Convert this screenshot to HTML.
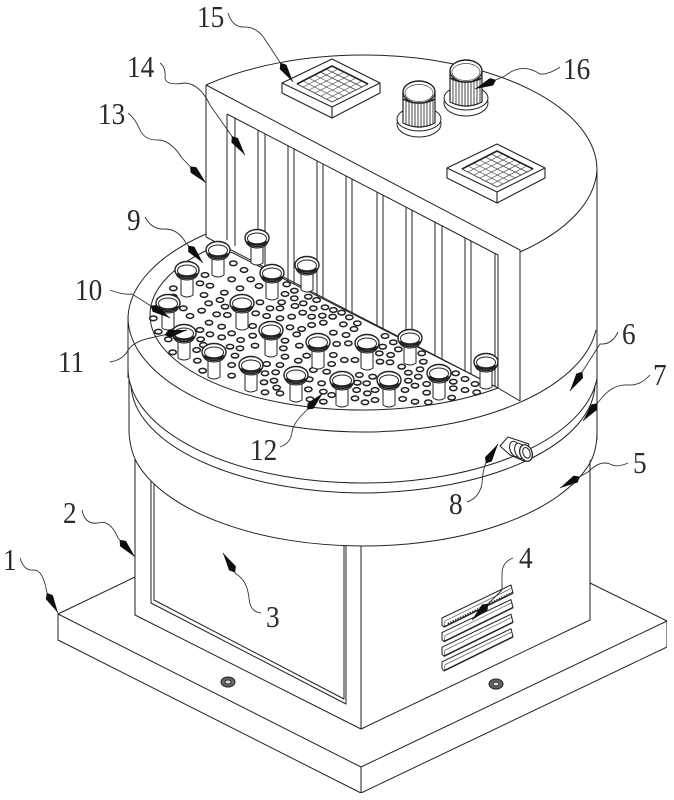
<!DOCTYPE html>
<html><head><meta charset="utf-8"><style>
html,body{margin:0;padding:0;background:#fff;width:674px;height:800px;overflow:hidden}
svg{display:block}
text{font-family:"Liberation Serif",serif;font-size:31px;fill:#2a2a2a}
</style></head><body>
<svg width="674" height="800" viewBox="0 0 674 800" xmlns="http://www.w3.org/2000/svg">
<defs>
<filter id="b" x="0" y="0" width="100%" height="100%"><feGaussianBlur stdDeviation="0.3"/></filter>
<marker id="a" markerUnits="userSpaceOnUse" markerWidth="26" markerHeight="12" refX="23" refY="5" orient="auto"><path d="M0,5 L5,1 L23,5 L5,9 Z" fill="#111"/></marker>
<ellipse id="h" rx="11" ry="7" fill="#fff" stroke="#222" stroke-width="4.500"/>
<g id="t" fill="#fff" stroke="#222" stroke-width="1">
<path d="M-6,7 L-6,25 Q0,29 6,25 L6,7 Z"/>
<path d="M-12,0 Q-11,7 -6,9 Q0,11 6,9 Q11,7 12,0 Z"/>
<ellipse cx="0" cy="0" rx="12" ry="8.500" stroke-width="1.400"/>
<ellipse cx="0" cy="0.500" rx="9.500" ry="5.500"/>
<path d="M-10,4 Q0,9 10,4" fill="none" stroke-width="2.400"/>
</g>
<g id="v">
<path d="M332,59 L380,83 L380,93 L332,118 L282,93 L282,83 Z" fill="#fff" stroke="#222" stroke-width="1.100"/>
<path d="M282,83 L332,107 L380,83 M332,107 V118" fill="none" stroke="#222" stroke-width="1.100"/>
<path d="M332,66 L368,84 L332,102 L297,84 Z" fill="#fff" stroke="#333" stroke-width="0.800"/>
<path d="M297,84 L332,66 L368,84" fill="none" stroke="#222" stroke-width="1.600"/>
<path d="M326,69 L362,87 M320.300,72 L356,90 M314.500,75 L350,93 M308.700,78 L344,96 M303,81 L338,99 M338,69 L303,87 M344,72 L309,90 M350,75 L315,93 M356,78 L321,96 M362,81 L327,99" fill="none" stroke="#444" stroke-width="0.700"/>
</g>
<g id="k">
<ellipse cx="466" cy="103" rx="22" ry="13" fill="#fff" stroke="#222"/>
<ellipse cx="466" cy="98" rx="22" ry="12" fill="#fff" stroke="#222"/>
<path d="M450,72 V102 Q466,110 482,102 V72 Z" fill="#fff" stroke="#222" stroke-width="1.200"/>
<path d="M453,78 V104 M456,79 V105 M459,80 V106 M462,80 V106 M465,80 V107 M468,80 V107 M471,80 V106 M474,80 V106 M477,79 V105 M480,78 V103" stroke="#333" stroke-width="0.900" fill="none"/>
<path d="M450,78 Q466,86 482,78" fill="none" stroke="#222" stroke-width="1.600"/>
<ellipse cx="466" cy="71" rx="16" ry="11" fill="#fff" stroke="#222" stroke-width="1.400"/>
<ellipse cx="466" cy="72" rx="14" ry="8.500" fill="#fff" stroke="#444" stroke-width="0.700"/>
</g>
<g id="s">
<path d="M442,618 L511,585 L513,593 L444,627 L442,625 Z" fill="#fff" stroke="#222"/>
<path d="M444,627 L445,621 L512,588" fill="none" stroke="#444" stroke-width="0.600"/>
<path d="M444,627 L513,593" fill="none" stroke="#222" stroke-width="1.500"/>
</g>
</defs>
<rect width="674" height="800" fill="#fff"/>
<g filter="url(#b)" stroke="#222" stroke-width="1" fill="none" stroke-linejoin="round">

<!-- base -->
<path d="M58,614 L135,577 L590,583 L667,621 L667,647 L361,793 L58,640 Z" fill="#fff"/>
<path d="M58,614 L361,767 L667,621 M361,767 V793"/>

<!-- body -->
<path d="M135,440 V615 L361,729 L590,620 V440 Z" fill="#fff"/>
<path d="M361,520 V729"/>
<path d="M151,470 V603 L346,704 V520 M154,470 V600 L344,699 V520"/>

<!-- vent slats -->
<use href="#s"/>
<use href="#s" y="14.600"/>
<use href="#s" y="29.200"/>
<use href="#s" y="43.800"/>
<path d="M448,624 L512,593" stroke-width="2.400" stroke-dasharray="1.500 1.200" stroke="#333"/>

<!-- bolts -->
<ellipse cx="228" cy="682" rx="7" ry="5" fill="#666" stroke="#222"/><ellipse cx="228" cy="682" rx="3" ry="2" fill="#ddd" stroke="#333"/>
<ellipse cx="496" cy="684" rx="7" ry="5" fill="#666" stroke="#222"/><ellipse cx="496" cy="684" rx="3" ry="2" fill="#ddd" stroke="#333"/>

<!-- lower drum -->
<path d="M128,317 V432 A235,115 0 0 0 362,546 A235,115 0 0 0 597,440 V317 Z" fill="#fff" stroke="none"/>
<path d="M129,378 V432 Q130,450 137,463 A235,115 0 0 0 362,546 A235,115 0 0 0 590,463 Q597,450 597,432"/>
<path d="M128,368 A235,115 0 0 0 362,483 A235,115 0 0 0 597,378"/>
<path d="M131,385 A235,110 0 0 0 362,493 A235,110 0 0 0 595,385"/>

<!-- tower -->
<path d="M206,85 A234,115 0 0 1 363,55 A234,115 0 0 1 597,170 V340 L520,402 L206,237 Z" fill="#fff" stroke="none"/>
<path d="M206,85 A234,115 0 0 1 363,55 A234,115 0 0 1 597,170 A234,115 0 0 1 520,252"/>
<path d="M597,170 V440"/>
<path d="M206,85 L520,250 V401"/>
<path d="M206,85 V237"/>
<path d="M227,114 V240 M235,118 V246"/>
<path d="M227,114 L498,255 V388 M495,253 V387"/>
<path d="M258,130 V270 M265,134 V275 M288,146 V285 M294,149 V290 M317,161 V300 M323,164 V305 M346,176 V315 M352,179 V320 M377,192 V330 M383,195 V335 M406,207 V345 M412,210 V350 M435,222 V360 M442,225 V365 M465,238 V375 M471,241 V380"/>

<!-- rim -->
<path d="M206,234 A235,115 0 0 0 128,317 A235,115 0 0 0 363,432 A235,115 0 0 0 596,330 M128,317 V378" fill="none"/>
<path d="M206,237 L498,388 L520,401"/>

<!-- plate -->
<path d="M214,247 A213,95 0 0 0 150,315 A213,95 0 0 0 363,410 A213,95 0 0 0 498,388 L233,253 Z" fill="#fff"/>

<!-- holes -->
<g transform="translate(110,220) scale(.33333)">
<use href="#h" x="370" y="130"/><use href="#h" x="402" y="150"/><use href="#h" x="285" y="165"/><use href="#h" x="365" y="178"/><use href="#h" x="422" y="178"/><use href="#h" x="270" y="190"/><use href="#h" x="300" y="197"/><use href="#h" x="447" y="198"/><use href="#h" x="390" y="205"/><use href="#h" x="530" y="193"/><use href="#h" x="553" y="212"/><use href="#h" x="343" y="218"/><use href="#h" x="282" y="225"/><use href="#h" x="525" y="222"/><use href="#h" x="553" y="235"/><use href="#h" x="330" y="240"/><use href="#h" x="296" y="250"/><use href="#h" x="450" y="247"/><use href="#h" x="515" y="247"/><use href="#h" x="580" y="250"/><use href="#h" x="620" y="240"/><use href="#h" x="595" y="230"/><use href="#h" x="345" y="260"/><use href="#h" x="220" y="265"/><use href="#h" x="275" y="272"/><use href="#h" x="480" y="265"/><use href="#h" x="510" y="265"/><use href="#h" x="555" y="258"/><use href="#h" x="610" y="265"/><use href="#h" x="645" y="262"/><use href="#h" x="670" y="270"/><use href="#h" x="695" y="278"/><use href="#h" x="240" y="288"/><use href="#h" x="320" y="283"/><use href="#h" x="352" y="285"/><use href="#h" x="437" y="280"/><use href="#h" x="470" y="288"/><use href="#h" x="510" y="295"/><use href="#h" x="545" y="290"/><use href="#h" x="578" y="278"/><use href="#h" x="605" y="290"/><use href="#h" x="637" y="287"/><use href="#h" x="668" y="290"/><use href="#h" x="718" y="292"/><use href="#h" x="297" y="308"/><use href="#h" x="335" y="320"/><use href="#h" x="428" y="318"/><use href="#h" x="540" y="322"/><use href="#h" x="575" y="327"/><use href="#h" x="605" y="315"/><use href="#h" x="640" y="308"/><use href="#h" x="700" y="313"/><use href="#h" x="742" y="310"/><use href="#h" x="732" y="327"/><use href="#h" x="270" y="330"/><use href="#h" x="300" y="343"/><use href="#h" x="365" y="340"/><use href="#h" x="335" y="352"/><use href="#h" x="428" y="347"/><use href="#h" x="560" y="343"/><use href="#h" x="670" y="338"/><use href="#h" x="708" y="345"/><use href="#h" x="825" y="348"/><use href="#h" x="272" y="358"/><use href="#h" x="392" y="360"/><use href="#h" x="280" y="375"/><use href="#h" x="360" y="380"/><use href="#h" x="390" y="385"/><use href="#h" x="435" y="377"/><use href="#h" x="525" y="362"/><use href="#h" x="568" y="377"/><use href="#h" x="520" y="385"/><use href="#h" x="680" y="372"/><use href="#h" x="715" y="370"/><use href="#h" x="850" y="367"/><use href="#h" x="818" y="380"/><use href="#h" x="865" y="388"/><use href="#h" x="375" y="407"/><use href="#h" x="525" y="410"/><use href="#h" x="590" y="407"/><use href="#h" x="670" y="405"/><use href="#h" x="703" y="420"/><use href="#h" x="735" y="420"/><use href="#h" x="808" y="400"/><use href="#h" x="842" y="405"/><use href="#h" x="935" y="400"/><use href="#h" x="260" y="390"/><use href="#h" x="262" y="422"/><use href="#h" x="365" y="435"/><use href="#h" x="470" y="432"/><use href="#h" x="510" y="435"/><use href="#h" x="565" y="422"/><use href="#h" x="665" y="432"/><use href="#h" x="810" y="425"/><use href="#h" x="840" y="427"/><use href="#h" x="940" y="425"/><use href="#h" x="875" y="440"/><use href="#h" x="930" y="448"/><use href="#h" x="365" y="467"/><use href="#h" x="465" y="460"/><use href="#h" x="497" y="457"/><use href="#h" x="610" y="450"/><use href="#h" x="650" y="455"/><use href="#h" x="748" y="465"/><use href="#h" x="788" y="470"/><use href="#h" x="895" y="458"/><use href="#h" x="925" y="470"/><use href="#h" x="1037" y="460"/><use href="#h" x="1065" y="477"/><use href="#h" x="462" y="487"/><use href="#h" x="492" y="482"/><use href="#h" x="598" y="478"/><use href="#h" x="635" y="490"/><use href="#h" x="742" y="488"/><use href="#h" x="770" y="490"/><use href="#h" x="895" y="482"/><use href="#h" x="950" y="492"/><use href="#h" x="1030" y="485"/><use href="#h" x="500" y="503"/><use href="#h" x="465" y="517"/><use href="#h" x="510" y="520"/><use href="#h" x="595" y="508"/><use href="#h" x="640" y="515"/><use href="#h" x="740" y="510"/><use href="#h" x="772" y="520"/><use href="#h" x="795" y="510"/><use href="#h" x="885" y="510"/><use href="#h" x="915" y="497"/><use href="#h" x="950" y="518"/><use href="#h" x="1030" y="505"/><use href="#h" x="1065" y="510"/><use href="#h" x="1095" y="492"/><use href="#h" x="1100" y="517"/><use href="#h" x="600" y="538"/><use href="#h" x="640" y="545"/><use href="#h" x="665" y="525"/><use href="#h" x="735" y="535"/><use href="#h" x="765" y="547"/><use href="#h" x="795" y="540"/><use href="#h" x="878" y="537"/><use href="#h" x="915" y="545"/><use href="#h" x="955" y="547"/><use href="#h" x="1025" y="533"/><use href="#h" x="190" y="205"/><use href="#h" x="190" y="230"/><use href="#h" x="175" y="358"/><use href="#h" x="145" y="335"/><use href="#h" x="188" y="397"/><use href="#h" x="130" y="295"/><use href="#h" x="278" y="452"/><use href="#h" x="225" y="380"/>
</g>

<!-- tubes -->
<use href="#t" x="257" y="238"/><use href="#t" x="218" y="250"/><use href="#t" x="307" y="265"/><use href="#t" x="187" y="270"/><use href="#t" x="272" y="273"/><use href="#t" x="168" y="303"/><use href="#t" x="242" y="303"/><use href="#t" x="271" y="330"/><use href="#t" x="184" y="333"/><use href="#t" x="410" y="338"/><use href="#t" x="318" y="342"/><use href="#t" x="367" y="343"/><use href="#t" x="214" y="352"/><use href="#t" x="486" y="362"/><use href="#t" x="251" y="365"/><use href="#t" x="439" y="373"/><use href="#t" x="296" y="375"/><use href="#t" x="342" y="380"/><use href="#t" x="389" y="380"/>

<!-- top fittings -->
<use href="#v"/>
<use href="#v" x="165" y="85"/>
<use href="#k"/>
<use href="#k" x="-47" y="21"/>

<!-- nozzle -->
<path d="M500,446 L508,437 L529,444 L524,461 L510,455 Z" fill="#fff" stroke="#222"/>
<ellipse cx="515" cy="449" rx="5" ry="8" transform="rotate(-20 515 449)" fill="#fff"/>
<ellipse cx="520" cy="451" rx="5" ry="8" transform="rotate(-20 520 451)" fill="#fff"/>
<ellipse cx="526" cy="453" rx="6" ry="8.500" transform="rotate(-20 526 453)" fill="#fff" stroke-width="1.300"/>
<ellipse cx="526.500" cy="453" rx="3.500" ry="5.500" transform="rotate(-20 526 453)" fill="#fff"/>

<!-- leaders -->
<g stroke="#333" stroke-width="0.900">
<path marker-end="url(#a)" d="M20,558 Q24,571 33,570 Q43,569 47,593 L58,613"/>
<path marker-end="url(#a)" d="M82,510 Q85,525 98,523 Q110,519 118,538 L135,557"/>
<path marker-end="url(#a)" d="M261,613 Q250,612 249,598 Q247,580 236,574 L223,553"/>
<path marker-end="url(#a)" d="M513,558 Q502,562 502,574 L502,590 L472,620"/>
<path marker-end="url(#a)" d="M628,463 Q617,468 610,464 Q600,460 588,472 L560,488"/>
<path marker-end="url(#a)" d="M618,332 Q612,345 600,344 L570,391"/>
<path marker-end="url(#a)" d="M650,375 Q640,386 628,385 Q612,384 600,400 L583,421"/>
<path marker-end="url(#a)" d="M467,502 Q479,498 482,484 Q483,465 488,460 L498,444"/>
<path marker-end="url(#a)" d="M145,217 Q152,230 165,229 Q178,229 186,243 L203,263"/>
<path marker-end="url(#a)" d="M110,290 Q122,295 132,294 L170,318"/>
<path marker-end="url(#a)" d="M110,362 Q122,360 127,352 Q132,342 150,338 L187,330"/>
<path marker-end="url(#a)" d="M280,447 Q291,443 292,432 Q293,425 300,417 L323,393"/>
<path marker-end="url(#a)" d="M128,113 Q135,118 140,130 Q145,141 160,140 Q172,142 182,158 L206,183"/>
<path marker-end="url(#a)" d="M160,63 Q166,67 165,78 Q166,86 185,83 Q200,84 210,105 L245,155"/>
<path marker-end="url(#a)" d="M228,13 Q232,26 242,27 Q256,26 264,38 L293,82"/>
<path marker-end="url(#a)" d="M560,67 Q548,75 540,74 Q522,62 505,76 L475,89"/>
</g>
</g>

<!-- labels -->
<g transform="scale(.88,1)">
<text x="3.400" y="570">1</text>
<text x="71.600" y="523">2</text>
<text x="302.300" y="627">3</text>
<text x="589.800" y="568">4</text>
<text x="719.300" y="473">5</text>
<text x="706.800" y="344">6</text>
<text x="742" y="385">7</text>
<text x="510.200" y="514">8</text>
<text x="144.300" y="230">9</text>
<text x="85.200" y="300">10</text>
<text x="65.900" y="372">11</text>
<text x="284.100" y="460">12</text>
<text x="111.400" y="124">13</text>
<text x="144.300" y="77">14</text>
<text x="223.900" y="27">15</text>
<text x="639.800" y="79">16</text>
</g>
</svg>
</body></html>
